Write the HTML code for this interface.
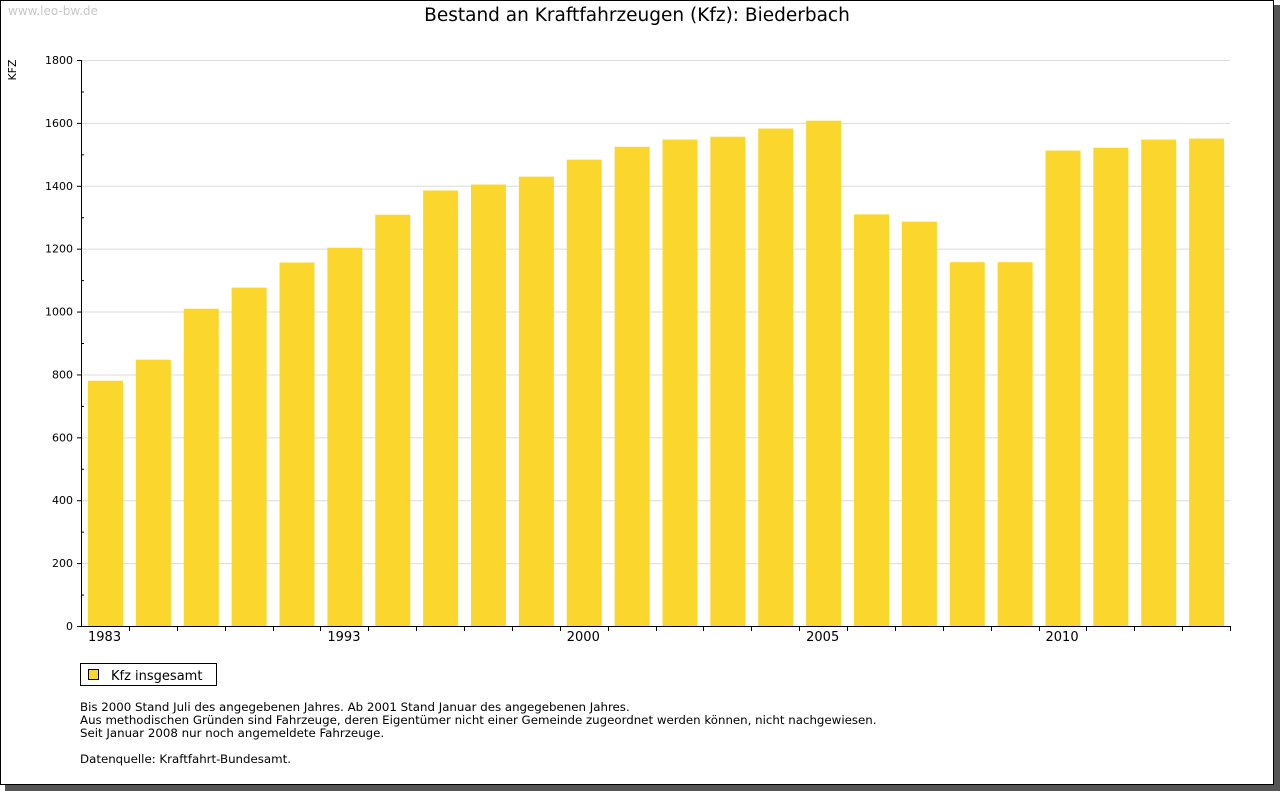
<!DOCTYPE html>
<html><head><meta charset="utf-8"><style>
body{margin:0;background:#fff;width:1280px;height:791px;overflow:hidden;font-family:"DejaVu Sans","Liberation Sans",sans-serif;}
svg text{font-family:"DejaVu Sans","Liberation Sans",sans-serif;}
</style></head><body>
<svg id="c" width="1280" height="791" xmlns="http://www.w3.org/2000/svg">
<rect x="5" y="5" width="1275" height="786" fill="#555"/>
<rect x="0.5" y="0.5" width="1273" height="784" fill="#fff" stroke="#000"/>
<text x="8" y="15" font-size="12" fill="#c8c8c8">www.leo-bw.de</text>
<text x="637" y="21" font-size="18.5" text-anchor="middle" fill="#000">Bestand an Kraftfahrzeugen (Kfz): Biederbach</text>
<text transform="translate(16,70) rotate(-90)" font-size="11" text-anchor="middle">KFZ</text>
<g id="grid"></g><g id="bars"></g><g id="axes"></g>
<rect x="80.5" y="663.5" width="136" height="22" fill="#fff" stroke="#000"/>
<rect x="88.5" y="669.5" width="10" height="10" fill="#FBD72D" stroke="#000"/>
<text x="111" y="680" font-size="13">Kfz insgesamt</text>
<g font-size="11.8">
<text x="80" y="711">Bis 2000 Stand Juli des angegebenen Jahres. Ab 2001 Stand Januar des angegebenen Jahres.</text>
<text x="80" y="724">Aus methodischen Gründen sind Fahrzeuge, deren Eigentümer nicht einer Gemeinde zugeordnet werden können, nicht nachgewiesen.</text>
<text x="80" y="737">Seit Januar 2008 nur noch angemeldete Fahrzeuge.</text>
<text x="80" y="763">Datenquelle: Kraftfahrt-Bundesamt.</text>
</g>
</svg>
<script>
const categories=["1983","1985","1987","1989","1991","1993","1995","1997","1998","1999","2000","2001","2002","2003","2004","2005","2006","2007","2008","2009","2010","2011","2012","2013"];
const shownLabels=["1983","1993","2000","2005","2010"];
const values=[780,847,1009,1076,1156,1203,1308,1385,1404,1429,1483,1524,1547,1556,1582,1607,1309,1286,1157,1157,1512,1521,1547,1550];
const yTicks=[0,200,400,600,800,1000,1200,1400,1600,1800];
const NS="http://www.w3.org/2000/svg";
const X0=81,X1=1230,Y0=626,Y1=60,YMAX=1800;
const slot=(X1-X0)/categories.length;
function y(v){return Y0-(v/YMAX)*(Y0-Y1);}
function x(i){return X0+i*slot;}
function mk(tag,a,parent){const e=document.createElementNS(NS,tag);for(const k in a)e.setAttribute(k,a[k]);parent.appendChild(e);return e;}
const grid=document.getElementById('grid'),bars=document.getElementById('bars'),axes=document.getElementById('axes');
yTicks.forEach(t=>{
  if(t>0){const l=mk('line',{x1:X0,x2:X1,y1:y(t)+0.5,y2:y(t)+0.5,stroke:'#dcdcdc'},grid);
  
  }
  const tx=mk('text',{x:73,y:y(t)+4,'font-size':11,'text-anchor':'end'},axes);tx.textContent=t;
  
  
  mk('line',{x1:X0-4,x2:X0,y1:y(t)+0.5,y2:y(t)+0.5,stroke:'#000'},axes);
  if(t<YMAX) mk('line',{x1:X0,x2:X0+3,y1:y(t+100)+0.5,y2:y(t+100)+0.5,stroke:'#000'},axes);
});
values.forEach((v,i)=>{
  const r=mk('rect',{x:x(i)+7,y:y(v),width:35,height:Y0-y(v),fill:'#FBD72D'},bars);
  
  
  if(i>0) mk('line',{x1:Math.round(x(i))+0.5,x2:Math.round(x(i))+0.5,y1:Y0,y2:Y0+5,stroke:'#000'},axes);
  if(shownLabels.includes(categories[i])){
    const tx=mk('text',{x:x(i)+7,y:Y0+15,'font-size':13},axes);tx.textContent=categories[i];
    
    
  }
});
const ya=mk('line',{x1:X0+0.5,x2:X0+0.5,y1:Y1,y2:Y0+1,stroke:'#000'},axes);


const xa=mk('line',{x1:X0,x2:X1,y1:Y0+0.5,y2:Y0+0.5,stroke:'#000'},axes);


mk('line',{x1:X1+0.5,x2:X1+0.5,y1:Y0,y2:Y0+5,stroke:'#000'},axes);
</script>
</body></html>
